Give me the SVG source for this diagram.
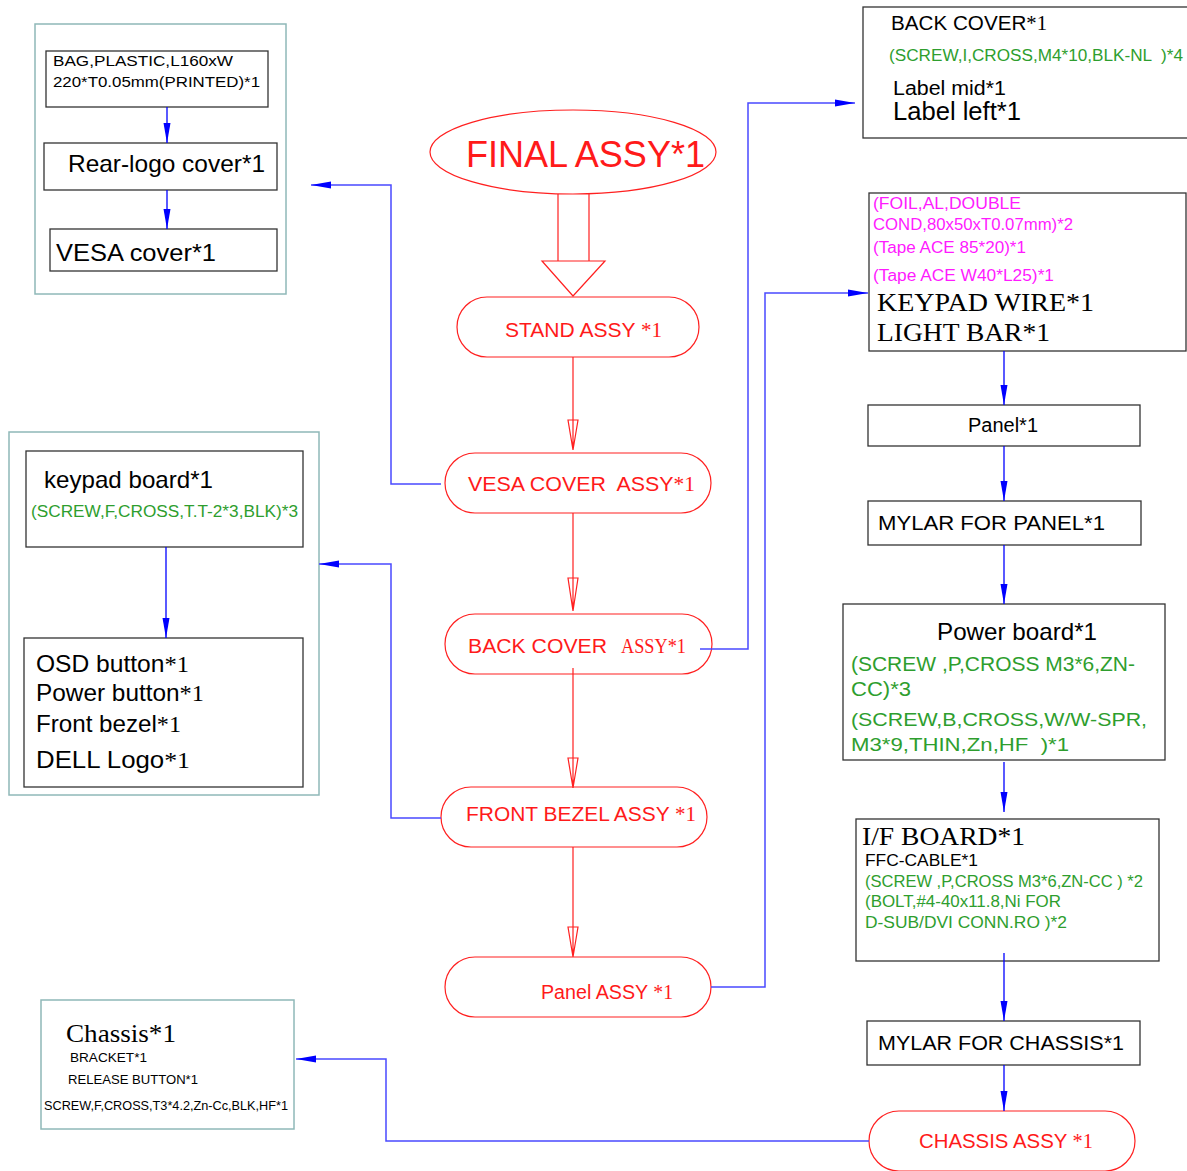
<svg xmlns="http://www.w3.org/2000/svg" width="1187" height="1171" viewBox="0 0 1187 1171">
<defs>
<style>
text{font-family:"Liberation Sans",Arial,sans-serif;fill:#000;white-space:pre}
.sf{font-family:"Liberation Serif","Times New Roman",serif}
.r{fill:#ff1a1a}
.g{fill:#2e9e2e}
.m{fill:#ff1aff}
.box{fill:#fff;stroke:#333;stroke-width:1.3}
.grp{fill:#fff;stroke:#8fb8b8;stroke-width:1.5}
.red{fill:#fff;stroke:#ff2020;stroke-width:1.2}
.redl{fill:none;stroke:#ff2020;stroke-width:1.2}
.bl{fill:none;stroke:#0000ff;stroke-width:1.3}
.cb{fill:none;stroke:#4a4aff;stroke-width:1.5}
</style>
<marker id="ab" viewBox="0 0 20 8" refX="20" refY="4" markerWidth="20" markerHeight="8" markerUnits="userSpaceOnUse" orient="auto"><path d="M0,0.5 L20,4 L0,7.5 Z" fill="#0000ff"/></marker>
</defs>

<!-- group containers -->
<g id="grp-vesa">
<rect class="grp" x="35" y="24" width="251" height="270"/>
<g id="n-bag"><rect class="box" x="46" y="51" width="222" height="56"/>
<text x="53" y="66" font-size="15" textLength="180" lengthAdjust="spacingAndGlyphs">BAG,PLASTIC,L160xW</text>
<text x="53" y="87" font-size="15" textLength="207" lengthAdjust="spacingAndGlyphs">220*T0.05mm(PRINTED)*1</text></g>
<g id="n-rearlogo"><rect class="box" x="44" y="143" width="233" height="47"/>
<text x="68" y="172" font-size="24" textLength="197" lengthAdjust="spacingAndGlyphs">Rear-logo cover*1</text></g>
<g id="n-vesacover"><rect class="box" x="50" y="229" width="227" height="42"/>
<text x="56" y="261" font-size="24" textLength="160" lengthAdjust="spacingAndGlyphs">VESA cover*1</text></g>
</g>

<g id="grp-front">
<rect class="grp" x="9" y="432" width="310" height="363"/>
<g id="n-keypad"><rect class="box" x="26" y="451" width="277" height="96"/>
<text x="44" y="488" font-size="24" textLength="169" lengthAdjust="spacingAndGlyphs">keypad board*1</text>
<text class="g" x="31" y="517" font-size="16" textLength="267" lengthAdjust="spacingAndGlyphs">(SCREW,F,CROSS,T.T-2*3,BLK)*3</text></g>
<g id="n-osd"><rect class="box" x="24" y="638" width="279" height="149"/>
<text x="36" y="672" font-size="24" textLength="153" lengthAdjust="spacingAndGlyphs">OSD button<tspan class="sf">*1</tspan></text>
<text x="36" y="701" font-size="24" textLength="168" lengthAdjust="spacingAndGlyphs">Power button<tspan class="sf">*1</tspan></text>
<text x="36" y="732" font-size="24" textLength="145" lengthAdjust="spacingAndGlyphs">Front bezel<tspan class="sf">*1</tspan></text>
<text x="36" y="768" font-size="24" textLength="154" lengthAdjust="spacingAndGlyphs">DELL Logo<tspan class="sf">*1</tspan></text></g>
</g>

<g id="n-chassis">
<rect class="grp" x="41" y="1000" width="253" height="129"/>
<text class="sf" x="66" y="1042" font-size="26" textLength="110" lengthAdjust="spacingAndGlyphs">Chassis*1</text>
<text x="70" y="1062" font-size="13" textLength="77" lengthAdjust="spacingAndGlyphs">BRACKET*1</text>
<text x="68" y="1084" font-size="13" textLength="130" lengthAdjust="spacingAndGlyphs">RELEASE BUTTON*1</text>
<text x="44" y="1110" font-size="13" textLength="244" lengthAdjust="spacingAndGlyphs">SCREW,F,CROSS,T3*4.2,Zn-Cc,BLK,HF*1</text>
</g>

<!-- center column -->
<g id="n-final">
<ellipse class="red" cx="573" cy="152" rx="143" ry="42"/>
<text class="r" x="466" y="167" font-size="36" textLength="239" lengthAdjust="spacingAndGlyphs">FINAL ASSY*1</text>
</g>
<g id="n-stand">
<rect class="red" x="457" y="297" width="242" height="60" rx="30"/>
<text class="r" x="505" y="337" font-size="20" textLength="157" lengthAdjust="spacingAndGlyphs">STAND ASSY <tspan class="sf">*1</tspan></text>
</g>
<g id="n-vesaassy">
<rect class="red" x="445" y="453" width="266" height="60" rx="30"/>
<text class="r" x="468" y="491" font-size="20" textLength="227" lengthAdjust="spacingAndGlyphs">VESA COVER  ASSY<tspan class="sf">*1</tspan></text>
</g>
<g id="n-backassy">
<rect class="red" x="445" y="614" width="267" height="60" rx="30"/>
<text class="r" x="468" y="653" font-size="20" textLength="139" lengthAdjust="spacingAndGlyphs">BACK COVER</text>
<text class="r sf" x="621" y="653" font-size="20" textLength="65" lengthAdjust="spacingAndGlyphs">ASSY*1</text>
</g>
<g id="n-frontassy">
<rect class="red" x="441" y="787" width="266" height="60" rx="30"/>
<text class="r" x="466" y="821" font-size="20" textLength="230" lengthAdjust="spacingAndGlyphs">FRONT BEZEL ASSY <tspan class="sf">*1</tspan></text>
</g>
<g id="n-panelassy">
<rect class="red" x="445" y="957" width="266" height="60" rx="30"/>
<text class="r" x="541" y="999" font-size="20" textLength="132" lengthAdjust="spacingAndGlyphs">Panel ASSY <tspan class="sf">*1</tspan></text>
</g>
<g id="n-chassisassy">
<rect class="red" x="869" y="1111" width="266" height="60" rx="30"/>
<text class="r" x="919" y="1148" font-size="20" textLength="174" lengthAdjust="spacingAndGlyphs">CHASSIS ASSY <tspan class="sf">*1</tspan></text>
</g>

<!-- right column -->
<g id="n-backcover">
<rect class="box" x="863" y="7" width="330" height="131"/>
<text x="891" y="30" font-size="20" textLength="156" lengthAdjust="spacingAndGlyphs">BACK COVER<tspan class="sf">*1</tspan></text>
<text class="g" x="889" y="61" font-size="16" textLength="294" lengthAdjust="spacingAndGlyphs">(SCREW,I,CROSS,M4*10,BLK-NL  )*4</text>
<text x="893" y="95" font-size="20" textLength="113" lengthAdjust="spacingAndGlyphs">Label mid*1</text>
<text x="893" y="120" font-size="25" textLength="128" lengthAdjust="spacingAndGlyphs">Label left*1</text>
</g>
<g id="n-foil">
<rect class="box" x="869" y="193" width="317" height="158"/>
<text class="m" x="873" y="209" font-size="16" textLength="148" lengthAdjust="spacingAndGlyphs">(FOIL,AL,DOUBLE</text>
<text class="m" x="873" y="230" font-size="16" textLength="200" lengthAdjust="spacingAndGlyphs">COND,80x50xT0.07mm)*2</text>
<text class="m" x="873" y="253" font-size="16" textLength="153" lengthAdjust="spacingAndGlyphs">(Tape ACE 85*20)*1</text>
<text class="m" x="873" y="281" font-size="16" textLength="181" lengthAdjust="spacingAndGlyphs">(Tape ACE W40*L25)*1</text>
<text class="sf" x="877" y="311" font-size="25" textLength="217" lengthAdjust="spacingAndGlyphs">KEYPAD WIRE*1</text>
<text class="sf" x="877" y="341" font-size="25" textLength="173" lengthAdjust="spacingAndGlyphs">LIGHT BAR*1</text>
</g>
<g id="n-panel">
<rect class="box" x="868" y="405" width="272" height="41"/>
<text x="968" y="432" font-size="20" textLength="70" lengthAdjust="spacingAndGlyphs">Panel*1</text>
</g>
<g id="n-mylarpanel">
<rect class="box" x="868" y="501" width="273" height="44"/>
<text x="878" y="530" font-size="20" textLength="227" lengthAdjust="spacingAndGlyphs">MYLAR FOR PANEL*1</text>
</g>
<g id="n-power">
<rect class="box" x="843" y="604" width="322" height="156"/>
<text x="937" y="640" font-size="24" textLength="160" lengthAdjust="spacingAndGlyphs">Power board*1</text>
<text class="g" x="851" y="671" font-size="20" textLength="284" lengthAdjust="spacingAndGlyphs">(SCREW ,P,CROSS M3*6,ZN-</text>
<text class="g" x="851" y="696" font-size="20" textLength="60" lengthAdjust="spacingAndGlyphs">CC)*3</text>
<text class="g" x="851" y="726" font-size="19" textLength="296" lengthAdjust="spacingAndGlyphs">(SCREW,B,CROSS,W/W-SPR,</text>
<text class="g" x="851" y="751" font-size="19" textLength="218" lengthAdjust="spacingAndGlyphs">M3*9,THIN,Zn,HF  )*1</text>
</g>
<g id="n-ifboard">
<rect class="box" x="856" y="819" width="303" height="142"/>
<text class="sf" x="862" y="845" font-size="26" textLength="163" lengthAdjust="spacingAndGlyphs">I/F BOARD*1</text>
<text x="865" y="866" font-size="17" textLength="113" lengthAdjust="spacingAndGlyphs">FFC-CABLE*1</text>
<text class="g" x="865" y="887" font-size="17" textLength="278" lengthAdjust="spacingAndGlyphs">(SCREW ,P,CROSS M3*6,ZN-CC ) *2</text>
<text class="g" x="865" y="907" font-size="17" textLength="196" lengthAdjust="spacingAndGlyphs">(BOLT,#4-40x11.8,Ni FOR</text>
<text class="g" x="865" y="928" font-size="17" textLength="202" lengthAdjust="spacingAndGlyphs">D-SUB/DVI CONN.RO )*2</text>
</g>
<g id="n-mylarchassis">
<rect class="box" x="867" y="1021" width="273" height="44"/>
<text x="878" y="1050" font-size="20" textLength="246" lengthAdjust="spacingAndGlyphs">MYLAR FOR CHASSIS*1</text>
</g>

<!-- connectors -->
<g id="connectors">
<path class="redl" d="M558,194 V261 M589,194 V261"/>
<path class="red" d="M542,261 L605,261 L573,296 Z"/>
<path class="redl" d="M573,357 V450 M568,420 L578,420 L573,450 Z"/>
<path class="redl" d="M573,513 V611 M568,578 L578,578 L573,611 Z"/>
<path class="redl" d="M573,668 V788 M568,758 L578,758 L573,788 Z"/>
<path class="redl" d="M573,847 V957 M568,927 L578,927 L573,957 Z"/>
<path class="bl" d="M167,107 V143" marker-end="url(#ab)"/>
<path class="bl" d="M167,190 V229" marker-end="url(#ab)"/>
<path class="bl" d="M166,547 V638" marker-end="url(#ab)"/>
<path class="bl" d="M1004,351 V405" marker-end="url(#ab)"/>
<path class="bl" d="M1004,446 V501" marker-end="url(#ab)"/>
<path class="bl" d="M1004,545 V604" marker-end="url(#ab)"/>
<path class="bl" d="M1004,762 V812" marker-end="url(#ab)"/>
<path class="bl" d="M1004,953 V1021" marker-end="url(#ab)"/>
<path class="bl" d="M1004,1065 V1111" marker-end="url(#ab)"/>
<path class="cb" d="M441,484 H391 V185 H311" marker-end="url(#ab)"/>
<path class="cb" d="M700,649 H748 V103 H855" marker-end="url(#ab)"/>
<path class="cb" d="M711,987 H765 V293 H868" marker-end="url(#ab)"/>
<path class="cb" d="M441,818 H391 V564 H319" marker-end="url(#ab)"/>
<path class="cb" d="M869,1141 H386 V1059 H296" marker-end="url(#ab)"/>
</g>
</svg>
